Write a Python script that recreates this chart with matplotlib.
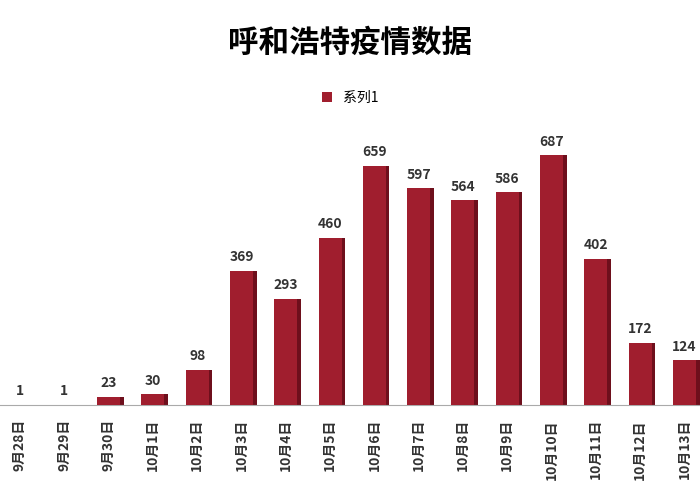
import matplotlib.pyplot as plt
import numpy as np

plt.rcParams['font.family'] = ['Noto Sans CJK SC', 'DejaVu Sans']

dates = ['9月28日', '9月29日', '9月30日', '10月1日', '10月2日', '10月3日', '10月4日',
         '10月5日', '10月6日', '10月7日', '10月8日', '10月9日', '10月10日', '10月11日',
         '10月12日', '10月13日']
cases = [1, 1, 23, 30, 98, 369, 293, 460, 659, 597, 564, 586, 687, 402, 172, 124]

fig = plt.figure(figsize=(7, 4.9), dpi=100)
ax = fig.add_axes([0.0, 0.173, 1.0, 0.622])
x = np.arange(len(cases))

# fake 3D: side face then front face
ax.bar(x + 0.08, cases, width=0.52, color='#6e0f1c', zorder=2)
bars = ax.bar(x, cases, width=0.52, color='#a01e2e', zorder=3)
for xi, v in zip(x, cases):
    ax.text(xi, v + 18, str(v), ha='center', va='bottom', fontsize=10,
            fontweight='bold', color='#333333')

ax.set_xlim(-0.45, len(cases) - 0.65)
ax.set_ylim(0, 838)
ax.set_yticks([])
ax.set_xticks(x)
ax.set_xticklabels(dates, rotation=90, fontsize=10, fontweight='bold', color='#333333')
ax.tick_params(axis='x', length=0, pad=10)
for s in ['top', 'right', 'left']:
    ax.spines[s].set_visible(False)
ax.spines['bottom'].set_color('#aaaaaa')

fig.suptitle('呼和浩特疫情数据', y=0.945, fontsize=22, fontweight='bold')
fig.legend([bars], ['系列1'], loc='center', bbox_to_anchor=(0.5, 0.80),
           frameon=False, fontsize=10, handlelength=0.7, handleheight=0.7)
fig.savefig('out.png')
